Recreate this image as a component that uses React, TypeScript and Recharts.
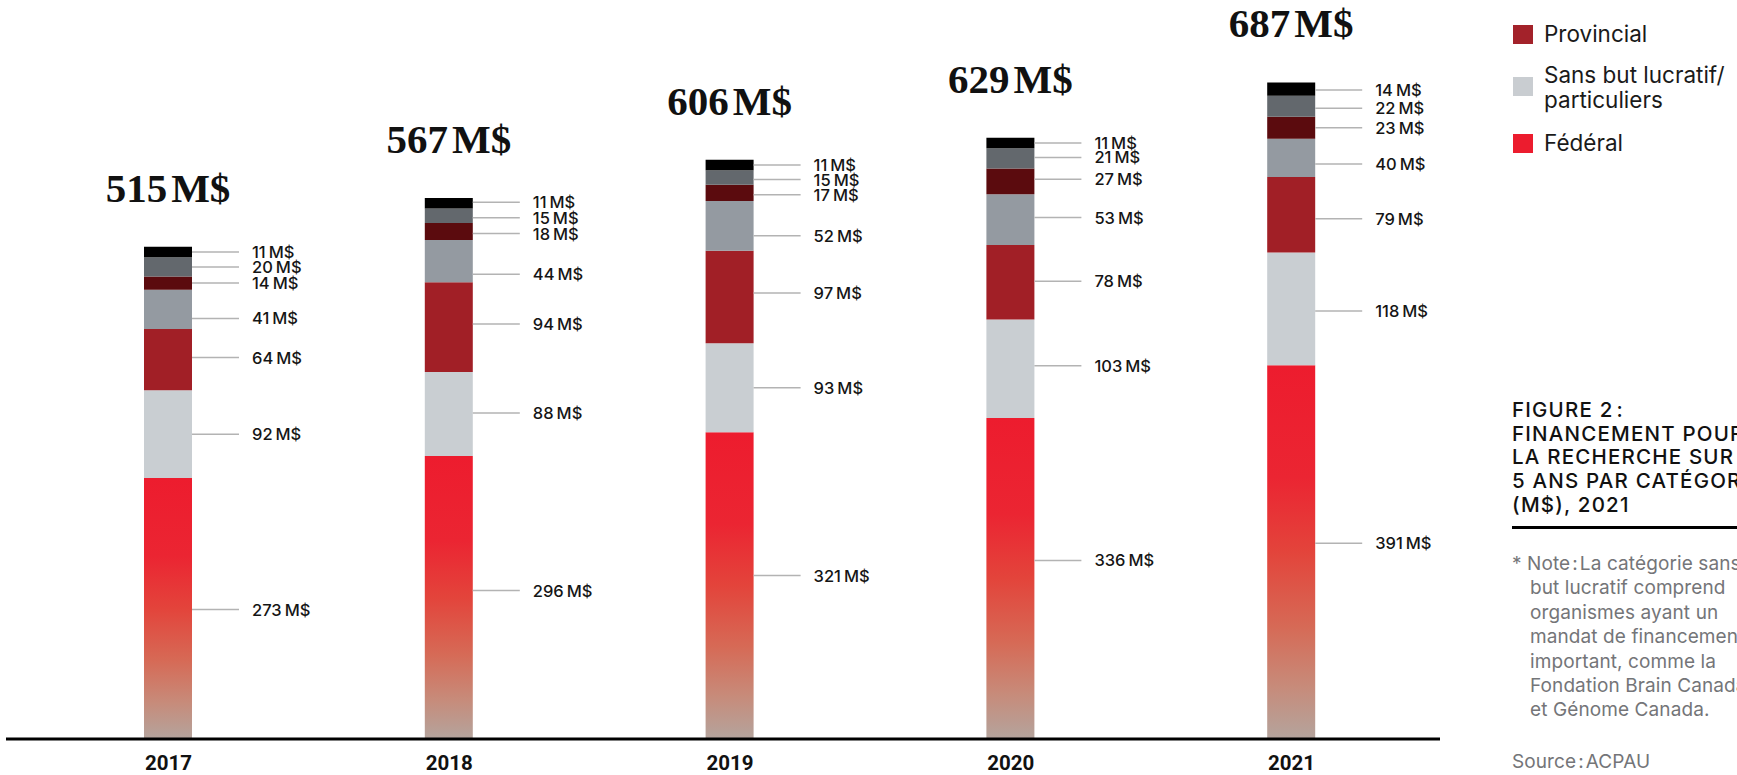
import React from "react";
import { BarChart, Bar, XAxis, YAxis, LabelList } from "recharts";

// Financement de la recherche par catégorie (M$)
const years = ["2017", "2018", "2019", "2020", "2021"];
const federal = [273, 296, 321, 336, 391];
const sansBut = [92, 88, 93, 103, 118];
const provincial = [64, 94, 97, 78, 79];
const grisMoyen = [41, 44, 52, 53, 40];
const bordeaux = [14, 18, 17, 27, 23];
const ardoise = [20, 15, 15, 21, 22];
const noir = [11, 11, 11, 11, 14];
const totals = [515, 567, 606, 629, 687];

const data = years.map((year, i) => ({
  year,
  federal: federal[i],
  sansBut: sansBut[i],
  provincial: provincial[i],
  grisMoyen: grisMoyen[i],
  bordeaux: bordeaux[i],
  ardoise: ardoise[i],
  noir: noir[i],
}));

// vertical nudge (px) of each callout, so the labels sit where the layout puts them
const labelNudge: Record<string, number[]> = {
  federal: [1, -7, -10, -18, -9],
  sansBut: [0, -1, 0, -3, 2],
  provincial: [-2, -3, -4, -1, 4],
  grisMoyen: [9, 13, 10, -2, 6],
  bordeaux: [0, 2, 2, -2, 0],
  ardoise: [0, 2, 2, -1, 2],
  noir: [0, -1, 0, 0, 1],
};

const SANS = "Inter, Roboto, 'Liberation Sans', sans-serif";
const YEAR_FONT = "Roboto, 'Liberation Sans', sans-serif";
const SERIF = "'Liberation Serif', 'DejaVu Serif', serif";

const series = [
  { key: "federal", fill: "url(#fedGradient)" },
  { key: "sansBut", fill: "#c9ced2" },
  { key: "provincial", fill: "#a11f26" },
  { key: "grisMoyen", fill: "#949aa1" },
  { key: "bordeaux", fill: "#5b0b0e" },
  { key: "ardoise", fill: "#63686d" },
  { key: "noir", fill: "#000000" },
];

function makeSegmentLabel(key: string) {
  return function SegmentLabel(props: any) {
    const { x, y, width, height, value, index } = props;
    const right = Number(x) + Number(width);
    const cy = Number(y) + Number(height) / 2 + (labelNudge[key]?.[index] ?? 0);
    return (
      <g>
        <line x1={right} y1={cy} x2={right + 47} y2={cy} stroke="#b3b3b3" strokeWidth={1.5} />
        <text
          x={right + 60}
          y={cy}
          dominantBaseline="central"
          fontFamily={SANS}
          fontWeight={500}
          fontSize={16.5}
          fill="#151515"
        >
          {value}
          <tspan dx={3}>M$</tspan>
        </text>
      </g>
    );
  };
}

function TotalLabel(props: any) {
  const { x, y, width, index } = props;
  return (
    <text
      x={Number(x) + Number(width) / 2}
      y={Number(y) - 45}
      textAnchor="middle"
      fontFamily={SERIF}
      fontWeight={700}
      fontSize={41}
      fill="#111"
    >
      {totals[index]}
      <tspan dx={4}>M$</tspan>
    </text>
  );
}

function YearTick(props: any) {
  const { x, payload } = props;
  return (
    <text x={x} y={770} textAnchor="middle" fontFamily={YEAR_FONT} fontWeight={700} fontSize={20.5} fill="#111">
      {payload.value}
    </text>
  );
}

const legendSwatches = [
  { name: "Provincial", color: "#a3222a", top: 25 },
  { name: "Sans but lucratif", color: "#c9cdd1", top: 77 },
  { name: "Fédéral", color: "#ec1c2e", top: 134 },
];
const legendText = [
  { text: "Provincial", cy: 34 },
  { text: "Sans but lucratif/", cy: 75 },
  { text: "particuliers", cy: 100 },
  { text: "Fédéral", cy: 143 },
];

const titleLines = ["FIGURE 2\u200A:", "FINANCEMENT POUR", "LA RECHERCHE SUR", "5 ANS PAR CATÉGORIE", "(M$), 2021"];
const noteLines = [
  "but lucratif comprend",
  "organismes ayant un",
  "mandat de financement",
  "important, comme la",
  "Fondation Brain Canada",
  "et Génome Canada.",
];

export default function App() {
  return (
    <div
      style={{
        position: "absolute",
        left: 0,
        top: 0,
        width: 1737,
        height: 775,
        overflow: "hidden",
        background: "#fff",
      }}
    >
      <BarChart
        width={1737}
        height={775}
        data={data}
        barSize={48}
        margin={{ top: 70, right: 297, bottom: 0, left: 6 }}
      >
        <defs>
          <linearGradient id="fedGradient" x1={0} y1={0} x2={0} y2={1}>
            <stop offset="0" stopColor="#ed1c2e" />
            <stop offset="0.3" stopColor="#eb2532" />
            <stop offset="0.5" stopColor="#e3443b" />
            <stop offset="0.7" stopColor="#d66a56" />
            <stop offset="0.86" stopColor="#c78b7a" />
            <stop offset="1" stopColor="#b4a49d" />
          </linearGradient>
        </defs>
        <YAxis hide domain={[0, 700]} />
        <XAxis
          dataKey="year"
          height={36}
          padding={{ left: 22, right: 8 }}
          axisLine={{ stroke: "#000", strokeWidth: 3 }}
          tickLine={false}
          tick={<YearTick />}
          interval={0}
        />
        {series.map((s) => (
          <Bar key={s.key} dataKey={s.key} stackId="fin" fill={s.fill} isAnimationActive={false}>
            <LabelList dataKey={s.key} content={makeSegmentLabel(s.key)} />
            {s.key === "noir" ? <LabelList dataKey={s.key} content={<TotalLabel />} /> : null}
          </Bar>
        ))}
      </BarChart>

      {legendSwatches.map((sw) => (
        <div
          key={sw.name}
          style={{ position: "absolute", left: 1513, top: sw.top, width: 20, height: 19, background: sw.color }}
        />
      ))}
      {legendText.map((t) => (
        <div
          key={t.text}
          style={{
            position: "absolute",
            left: 1544,
            top: t.cy - 13,
            height: 26,
            lineHeight: "26px",
            fontFamily: SANS,
            fontSize: 22.5,
            color: "#1a1a1a",
            whiteSpace: "nowrap",
          }}
        >
          {t.text}
        </div>
      ))}

      <div
        style={{
          position: "absolute",
          left: 1512,
          top: 398,
          fontFamily: SANS,
          fontWeight: 500,
          fontSize: 20.5,
          letterSpacing: 1.2,
          lineHeight: "23.7px",
          color: "#111",
          whiteSpace: "nowrap",
        }}
      >
        {titleLines.map((l) => (
          <div key={l}>{l}</div>
        ))}
      </div>
      <div style={{ position: "absolute", left: 1512, top: 526, width: 240, height: 3, background: "#000" }} />
      <div
        style={{
          position: "absolute",
          left: 1512,
          top: 552,
          fontFamily: SANS,
          fontSize: 19,
          letterSpacing: 0.1,
          lineHeight: "24.4px",
          color: "#747578",
          whiteSpace: "nowrap",
        }}
      >
        <div>
          * Note<span style={{ margin: "0 2px" }}>:</span>La catégorie sans
        </div>
        {noteLines.map((l) => (
          <div key={l} style={{ paddingLeft: 18 }}>
            {l}
          </div>
        ))}
      </div>
      <div
        style={{
          position: "absolute",
          left: 1512,
          top: 750,
          fontFamily: SANS,
          fontSize: 19,
          letterSpacing: 0.1,
          lineHeight: "24px",
          color: "#747578",
          whiteSpace: "nowrap",
        }}
      >
        Source<span style={{ margin: "0 2px" }}>:</span>ACPAU
      </div>
    </div>
  );
}
